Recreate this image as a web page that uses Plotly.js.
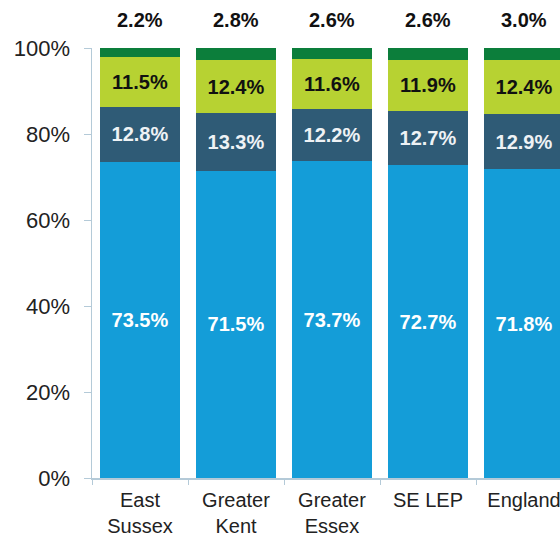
<!DOCTYPE html>
<html>
<head>
<meta charset="utf-8">
<script src="https://cdn.plot.ly/plotly-3.0.1.min.js"></script>
<style>
html,body{margin:0;padding:0;overflow:hidden;background:#fff;}
#chart{width:600px;height:538px;}
</style>
</head>
<body>
<div id="chart"></div>
<script>
var categories = ["East<br>Sussex", "Greater<br>Kent", "Greater<br>Essex", "SE LEP", "England"];
var seriesBlue  = [73.5, 71.5, 73.7, 72.7, 71.8];
var seriesSlate = [12.8, 13.3, 12.2, 12.7, 12.9];
var seriesLime  = [11.5, 12.4, 11.6, 11.9, 12.4];
var seriesGreen = [2.2, 2.8, 2.6, 2.6, 3.0];
var yTickVals = [0, 20, 40, 60, 80, 100];
var yTickText = ["0%", "20%", "40%", "60%", "80%", "100%"];

function pct(a){ return a.map(function(v){ return v.toFixed(1) + "%"; }); }

var font = "Liberation Sans, Arial, sans-serif";
function barTrace(vals, color, txtColor, showText){
  return {
    type: "bar", x: categories, y: vals,
    marker: {color: color, line: {width: 0}},
    text: showText ? pct(vals) : null,
    textposition: showText ? "inside" : "none",
    insidetextanchor: "middle",
    textangle: 0,
    textfont: {family: font, size: 20, color: txtColor, weight: "bold"},
    hoverinfo: "none"
  };
}

var traces = [
  barTrace(seriesBlue, "#149dd8", "#ffffff", true),
  barTrace(seriesSlate, "#2f5b76", "#eef2f5", true),
  barTrace(seriesLime, "#b7d232", "#111111", true),
  barTrace(seriesGreen, "#0c7e3b", "#111111", false)
];

var annotations = categories.map(function(c, i){
  return {
    x: c, y: 1, xref: "x", yref: "paper",
    text: "<b>" + seriesGreen[i].toFixed(1) + "%</b>",
    showarrow: false, yanchor: "bottom", yshift: 15,
    font: {family: font, size: 20, color: "#111111"}
  };
});

var layout = {
  width: 600, height: 538,
  margin: {l: 92, r: 28, t: 48, b: 60},
  paper_bgcolor: "#ffffff", plot_bgcolor: "#ffffff",
  barmode: "stack", bargap: 0.16,
  showlegend: false,
  annotations: annotations,
  xaxis: {
    type: "category",
    showline: true, linecolor: "#b4cad8", linewidth: 1.5,
    ticks: "outside", tickson: "boundaries", ticklen: 5, tickcolor: "#b4cad8",
    showgrid: false, zeroline: false,
    ticklabelstandoff: 3,
    tickfont: {family: font, size: 20, color: "#222222"}
  },
  yaxis: {
    range: [0, 100],
    tickvals: yTickVals, ticktext: yTickText,
    showline: true, linecolor: "#b4cad8", linewidth: 1.5,
    ticks: "outside", ticklen: 7, tickcolor: "#b4cad8",
    showgrid: false, zeroline: false,
    ticklabelstandoff: 9,
    tickfont: {family: font, size: 22, color: "#222222"}
  }
};

Plotly.newPlot("chart", traces, layout, {displayModeBar: false, staticPlot: true});
</script>
</body>
</html>
